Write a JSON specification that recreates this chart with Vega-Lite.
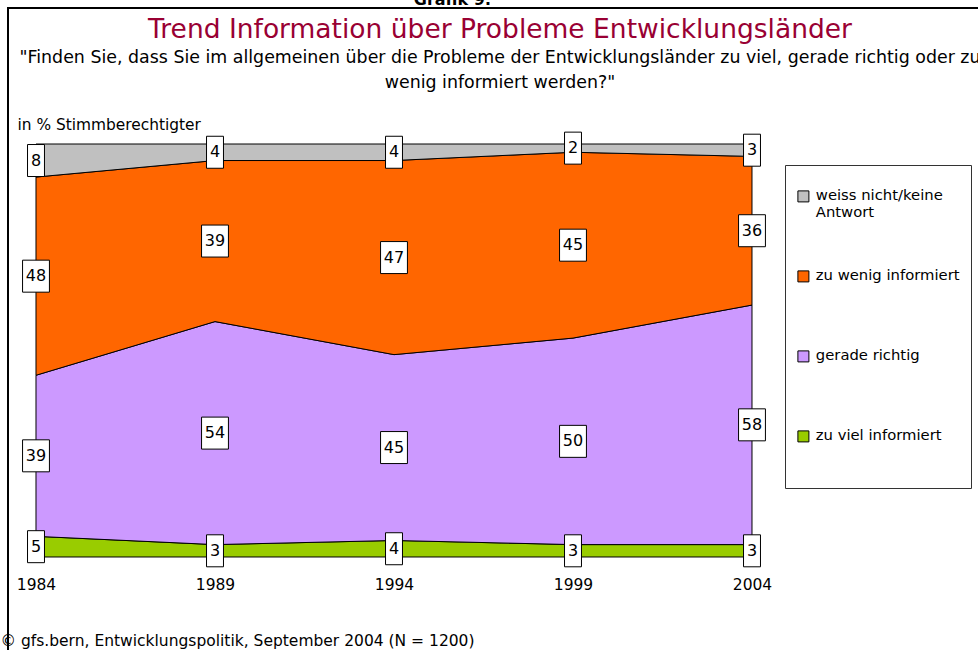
{
  "$schema": "https://vega.github.io/schema/vega-lite/v6.json",
  "autosize": {"type": "none"},
  "padding": {"left": 8, "top": 8, "right": 0, "bottom": 0},
  "width": 984,
  "height": 652,
  "background": "white",
  "config": {
    "view": {"stroke": "black", "strokeWidth": 2},
    "font": "DejaVu Sans"
  },
  "title": {
    "text": "Trend Information über Probleme Entwicklungsländer",
    "subtitle": ["\"Finden Sie, dass Sie im allgemeinen über die Probleme der Entwicklungsländer zu viel, gerade richtig oder zu", "wenig informiert werden?\""],
    "anchor": "middle",
    "frame": "group",
    "orient": "top",
    "offset": -100,
    "color": "#990033",
    "font": "DejaVu Sans",
    "fontSize": 26.5,
    "fontWeight": "normal",
    "subtitleColor": "black",
    "subtitleFont": "DejaVu Sans",
    "subtitleFontSize": 17.4,
    "subtitlePadding": 5,
    "subtitleLineHeight": 25
  },
  "data": {
    "values": [
      {"year": 1984, "cat": "zu viel informiert", "rank": 1, "value": 5},
      {"year": 1984, "cat": "gerade richtig", "rank": 2, "value": 39},
      {"year": 1984, "cat": "zu wenig informiert", "rank": 3, "value": 48},
      {"year": 1984, "cat": "weiss nicht/keine Antwort", "rank": 4, "value": 8},
      {"year": 1989, "cat": "zu viel informiert", "rank": 1, "value": 3},
      {"year": 1989, "cat": "gerade richtig", "rank": 2, "value": 54},
      {"year": 1989, "cat": "zu wenig informiert", "rank": 3, "value": 39},
      {"year": 1989, "cat": "weiss nicht/keine Antwort", "rank": 4, "value": 4},
      {"year": 1994, "cat": "zu viel informiert", "rank": 1, "value": 4},
      {"year": 1994, "cat": "gerade richtig", "rank": 2, "value": 45},
      {"year": 1994, "cat": "zu wenig informiert", "rank": 3, "value": 47},
      {"year": 1994, "cat": "weiss nicht/keine Antwort", "rank": 4, "value": 4},
      {"year": 1999, "cat": "zu viel informiert", "rank": 1, "value": 3},
      {"year": 1999, "cat": "gerade richtig", "rank": 2, "value": 50},
      {"year": 1999, "cat": "zu wenig informiert", "rank": 3, "value": 45},
      {"year": 1999, "cat": "weiss nicht/keine Antwort", "rank": 4, "value": 2},
      {"year": 2004, "cat": "zu viel informiert", "rank": 1, "value": 3},
      {"year": 2004, "cat": "gerade richtig", "rank": 2, "value": 58},
      {"year": 2004, "cat": "zu wenig informiert", "rank": 3, "value": 36},
      {"year": 2004, "cat": "weiss nicht/keine Antwort", "rank": 4, "value": 3}
    ]
  },
  "transform": [
    {"stack": "value", "groupby": ["year"], "sort": [{"field": "rank", "order": "ascending"}], "as": ["lo", "hi"]},
    {"calculate": "(datum.lo + datum.hi) / 2", "as": "mid"}
  ],
  "resolve": {"axis": {"x": "independent", "y": "independent"}},
  "layer": [
    {
      "mark": {"type": "area", "stroke": "black", "strokeWidth": 1, "opacity": 1},
      "encoding": {
        "x": {
          "field": "year", "type": "quantitative",
          "scale": {"domain": [1983.218, 2010.704], "nice": false, "zero": false},
          "axis": {
            "orient": "bottom", "offset": -103, "domain": false, "ticks": false, "grid": false,
            "values": [1984, 1989, 1994, 1999, 2004], "format": "d",
            "labelFont": "DejaVu Sans", "labelFontSize": 15.5, "labelColor": "black", "labelPadding": 20,
            "title": "© gfs.bern, Entwicklungspolitik, September 2004 (N = 1200)",
            "titleFont": "DejaVu Sans", "titleFontSize": 15.5, "titleFontWeight": "normal", "titleColor": "black",
            "titleAlign": "left", "titleBaseline": "middle", "titleX": -8, "titleY": 83
          }
        },
        "y": {
          "field": "hi", "type": "quantitative",
          "scale": {"domain": [-24.94, 132.93], "nice": false, "zero": false},
          "axis": {
            "orient": "left", "domain": false, "ticks": false, "labels": false, "grid": false,
            "title": "in % Stimmberechtigter",
            "titleFont": "DejaVu Sans", "titleFontSize": 15.4, "titleFontWeight": "normal", "titleColor": "black",
            "titleAngle": 0, "titleAlign": "left", "titleBaseline": "middle", "titleX": 9, "titleY": 116
          }
        },
        "y2": {"field": "lo"},
        "color": {
          "field": "cat", "type": "nominal",
          "scale": {
            "domain": ["weiss nicht/keine Antwort", "zu wenig informiert", "gerade richtig", "zu viel informiert"],
            "range": ["#C0C0C0", "#FF6600", "#CC99FF", "#99CC00"]
          },
          "legend": {
            "orient": "none", "legendX": 777, "legendY": 157,
            "title": " ", "titleFontSize": 6, "titlePadding": 7,
            "strokeColor": "#333333", "fillColor": "white", "padding": 11,
            "symbolType": "square", "symbolSize": 121, "symbolStrokeColor": "black", "symbolStrokeWidth": 1,
            "labelFont": "DejaVu Sans", "labelFontSize": 14.8, "labelColor": "black", "labelLimit": 220, "labelOffset": 5,
            "rowPadding": 48,
            "labelExpr": "datum.label == 'weiss nicht/keine Antwort' ? ['weiss nicht/keine', 'Antwort'] : datum.label == 'zu viel informiert' ? ['zu viel informiert', '', ''] : [datum.label, '']"
          }
        }
      }
    },
    {
      "mark": {"type": "point", "filled": true, "fill": "white", "stroke": "black", "strokeWidth": 1, "opacity": 1, "size": 1024},
      "encoding": {
        "x": {"field": "year", "type": "quantitative", "axis": null},
        "y": {"field": "mid", "type": "quantitative", "axis": null},
        "shape": {
          "condition": {"test": "datum.value >= 10", "value": "M-0.84,-1H0.84V1H-0.84Z"},
          "value": "M-0.53,-1H0.53V1H-0.53Z"
        }
      }
    },
    {
      "mark": {"type": "text", "font": "DejaVu Sans", "fontSize": 16, "color": "black"},
      "encoding": {
        "x": {
          "field": "year", "type": "quantitative",
          "axis": {
            "orient": "top", "domain": false, "ticks": false, "labels": false, "grid": false,
            "title": "Grafik 9:", "titleFont": "DejaVu Sans", "titleFontSize": 16, "titleFontWeight": "bold",
            "titleColor": "black", "titleAlign": "center", "titleBaseline": "alphabetic", "titleX": 444, "titleY": -4
          }
        },
        "y": {"field": "mid", "type": "quantitative", "axis": null},
        "text": {"field": "value", "type": "quantitative"}
      }
    }
  ]
}
